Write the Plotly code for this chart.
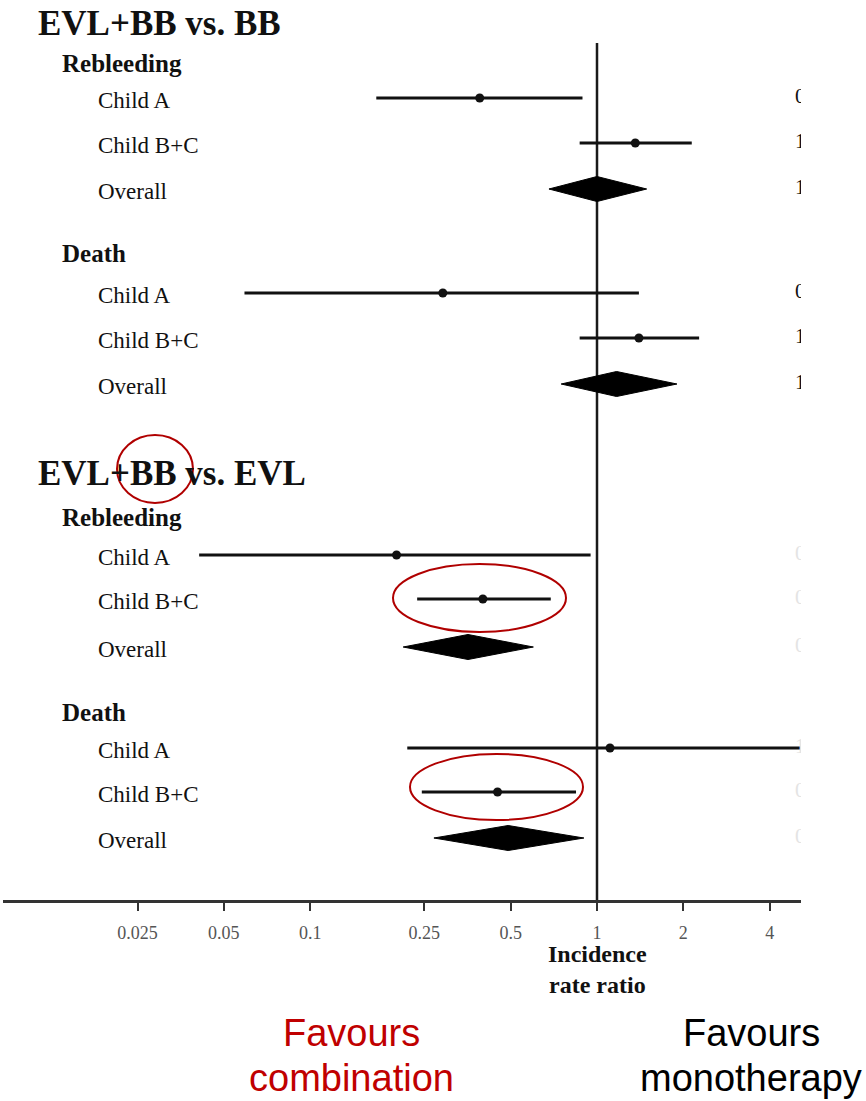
import plotly.graph_objects as go

# ---- data: incidence rate ratios (IRR) with 95% confidence limits ----
row_labels = ["Child A", "Child B+C", "Overall"]

bb_rebleed_irr = [0.39, 1.36, 1.00]
bb_rebleed_lo = [0.17, 0.87, 0.68]
bb_rebleed_hi = [0.89, 2.14, 1.49]

bb_death_irr = [0.29, 1.40, 1.17]
bb_death_lo = [0.059, 0.87, 0.75]
bb_death_hi = [1.40, 2.27, 1.90]

evl_rebleed_irr = [0.20, 0.40, 0.355]
evl_rebleed_lo = [0.041, 0.236, 0.211]
evl_rebleed_hi = [0.95, 0.69, 0.60]

evl_death_irr = [1.11, 0.45, 0.49]
evl_death_lo = [0.218, 0.245, 0.27]
evl_death_hi = [5.6, 0.845, 0.90]

tick_vals = [0.025, 0.05, 0.1, 0.25, 0.5, 1, 2, 4]
tick_text = ["0.025", "0.05", "0.1", "0.25", "0.5", "1", "2", "4"]

# ---- page geometry (pixels) ----
W, H = 866, 1101
PL, PR, PT, PB = 3, 801, 0, 900          # plot-area edges
X_ONE, PX_PER_DEC = 597, 286.8           # pixel of IRR=1, pixels per decade
X_RANGE = [(PL - X_ONE) / PX_PER_DEC, (PR - X_ONE) / PX_PER_DEC]

SERIF = "Liberation Serif"
SANS = "Liberation Sans"


def px_paper_x(px):
    return (px - PL) / (PR - PL)


def px_paper_y(py):
    return 1 - (py - PT) / (PB - PT)


def px_value(px):
    return 10 ** ((px - X_ONE) / PX_PER_DEC)


# comparison blocks: title, title row, then (header, header row, row positions, data, number colour)
blocks = [
    ("EVL+BB vs. BB", 21, [
        ("Rebleeding", 63, [98, 143, 189], (bb_rebleed_irr, bb_rebleed_lo, bb_rebleed_hi), "#111111"),
        ("Death", 253, [293, 338, 384], (bb_death_irr, bb_death_lo, bb_death_hi), "#111111"),
    ]),
    ("EVL+BB vs. EVL", 471, [
        ("Rebleeding", 517, [555, 599, 647], (evl_rebleed_irr, evl_rebleed_lo, evl_rebleed_hi), "#e4e4e4"),
        ("Death", 712, [748, 792, 838], (evl_death_irr, evl_death_lo, evl_death_hi), "#e4e4e4"),
    ]),
]

DIAMOND_HALF = 12.5
fig = go.Figure()
annotations = []


def left_text(text, px, py, size, bold=False, shift=0):
    annotations.append(dict(text="<b>%s</b>" % text if bold else text,
                            x=px_paper_x(px), y=py, xref="paper", yref="y",
                            xanchor="left", yanchor="middle", showarrow=False,
                            yshift=shift,
                            font=dict(family=SERIF, size=size, color="#111111")))


# line of no effect
fig.add_trace(go.Scatter(x=[1, 1], y=[43, PB], mode="lines",
                         line=dict(color="#1a1a1a", width=2.5),
                         hoverinfo="skip", showlegend=False))

for title, ty, groups in blocks:
    left_text(title, 36, ty, 35, bold=True, shift=-2)
    for header, hy, ys, (irr, lo, hi), num_col in groups:
        left_text(header, 60, hy, 25, bold=True)
        for lab, yy in zip(row_labels, ys):
            left_text(lab, 96, yy, 23, shift=-2)

        # confidence intervals for the individual strata
        cx, cy = [], []
        for i in range(2):
            cx += [lo[i], hi[i], None]
            cy += [ys[i], ys[i], None]
        fig.add_trace(go.Scatter(x=cx, y=cy, mode="lines",
                                 line=dict(color="#111111", width=3),
                                 cliponaxis=True, hoverinfo="skip", showlegend=False))
        fig.add_trace(go.Scatter(x=irr[:2], y=ys[:2], mode="markers",
                                 marker=dict(color="#111111", size=9, symbol="circle"),
                                 cliponaxis=True, hoverinfo="skip", showlegend=False))

        # pooled estimate as a diamond
        yo = ys[2]
        fig.add_trace(go.Scatter(
            x=[lo[2], irr[2], hi[2], irr[2], lo[2]],
            y=[yo, yo - DIAMOND_HALF, yo, yo + DIAMOND_HALF, yo],
            mode="lines", fill="toself", fillcolor="#000000",
            line=dict(color="#000000", width=1),
            hoverinfo="skip", showlegend=False))

        # estimate column at the right edge (clipped by the plot area)
        fig.add_trace(go.Scatter(
            x=[px_value(795)] * 3, y=ys,
            text=["%.2f (%.2f-%.2f)" % (irr[i], lo[i], hi[i]) for i in range(3)],
            mode="text", textposition="middle right",
            textfont=dict(family=SERIF, size=21, color=num_col),
            cliponaxis=True, hoverinfo="skip", showlegend=False))

# axis title
annotations.append(dict(text="<b>Incidence<br>rate ratio</b>", x=px_paper_x(597),
                        y=px_paper_y(969), xref="paper", yref="paper",
                        xanchor="center", yanchor="middle", showarrow=False,
                        font=dict(family=SERIF, size=24, color="#111111")))

# direction labels
for word, px, py, col in [("Favours", 351, 1033, "#c00000"),
                          ("combination", 351, 1078, "#c00000"),
                          ("Favours", 751, 1033, "#000000"),
                          ("monotherapy", 751, 1078, "#000000")]:
    annotations.append(dict(text=word, x=px_paper_x(px), y=px_paper_y(py),
                            xref="paper", yref="paper", xanchor="center",
                            yanchor="middle", showarrow=False,
                            font=dict(family=SANS, size=38, color=col)))

# red highlight ellipses
RED = "#b00000"
ellipses = [(117, 435, 193, 503), (393, 564, 566, 632), (410, 754, 583, 820)]
shapes = []
for x0, y0, x1, y1 in ellipses:
    shapes.append(dict(type="circle", xref="paper", yref="y",
                       x0=px_paper_x(x0), x1=px_paper_x(x1), y0=y0, y1=y1,
                       line=dict(color=RED, width=2), fillcolor="rgba(0,0,0,0)"))

fig.update_layout(
    width=W, height=H,
    margin=dict(l=PL, r=W - PR, t=PT, b=H - PB, autoexpand=False),
    paper_bgcolor="white", plot_bgcolor="white",
    showlegend=False,
    annotations=annotations,
    shapes=shapes,
    xaxis=dict(type="log", range=X_RANGE, showgrid=False, zeroline=False,
               showline=True, linecolor="#333333", linewidth=3,
               ticks="outside", ticklen=8, tickwidth=2, tickcolor="#333333",
               tickvals=tick_vals, ticktext=tick_text, ticklabelstandoff=6,
               tickfont=dict(family=SERIF, size=18, color="#555555"),
               fixedrange=True),
    yaxis=dict(range=[PB, PT], visible=False, showgrid=False, zeroline=False,
               fixedrange=True),
)

fig.write_html("out.html")
